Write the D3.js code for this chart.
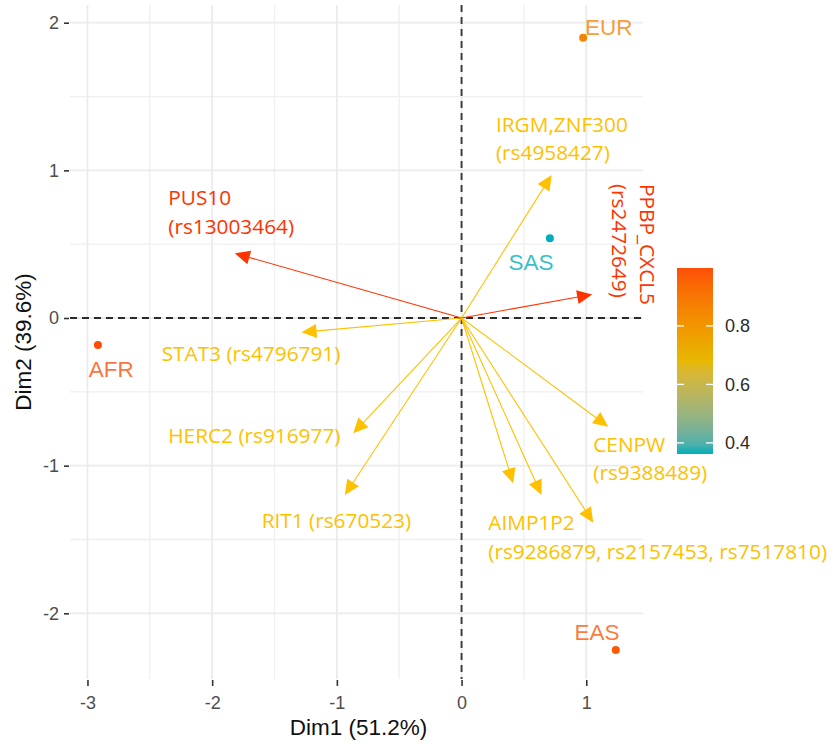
<!DOCTYPE html>
<html>
<head>
<meta charset="utf-8">
<script src="https://cdn.jsdelivr.net/npm/d3@7"></script>
<style>
  html, body { margin: 0; padding: 0; background: #fff; }
  svg { display: block; }
</style>
</head>
<body>
<svg id="chart" width="833" height="744"></svg>
<script>
// ---- Individuals (populations) ----
const indNames = ["EUR", "SAS", "AFR", "EAS"];
const indDim1  = [0.975, 0.708, -2.916, 1.237];
const indDim2  = [1.898, 0.540, -0.183, -2.249];
const indCos2  = [0.86, 0.362, 0.998, 0.975];

// ---- Variables (loci) ----
const varNames = ["PUS10", "IRGM,ZNF300", "PPBP_CXCL5", "STAT3", "HERC2", "RIT1", "CENPW",
                  "AIMP1P2 a", "AIMP1P2 b", "AIMP1P2 c"];
const varDim1 = [-1.818, 0.722, 1.047, -1.283, -0.869, -0.936, 1.176, 0.414, 0.641, 1.056];
const varDim2 = [0.438, 0.968, 0.160, -0.097, -0.781, -1.199, -0.736, -1.120, -1.199, -1.386];
const varCos2 = [0.97, 0.74, 0.99, 0.72, 0.73, 0.75, 0.74, 0.71, 0.72, 0.76];

// Variable label text (one entry per label; AIMP1P2 labels three arrows)
const varLabelLines = [
  ["PUS10", "(rs13003464)"],
  ["IRGM,ZNF300", "(rs4958427)"],
  ["PPBP_CXCL5", "(rs2472649)"],
  ["STAT3 (rs4796791)"],
  ["HERC2 (rs916977)"],
  ["RIT1 (rs670523)"],
  ["CENPW", "(rs9388489)"],
  ["AIMP1P2", "(rs9286879, rs2157453, rs7517810)"]
];
const varLabelOf = [0, 1, 2, 3, 4, 5, 6, 7];   // variable index whose colour each label takes

// Axis ticks and titles
const xTicks = [-3, -2, -1, 0, 1];
const yTicks = [-2, -1, 0, 1, 2];
const xMinor = [-2.5, -1.5, -0.5, 0.5];
const yMinor = [-1.5, -0.5, 0.5, 1.5];
const legendTicks = [0.4, 0.6, 0.8];
const xTitle = "Dim1 (51.2%)";
const yTitle = "Dim2 (39.6%)";

// ---- Layout ----
const panel = { left: 70, right: 643, top: 5, bottom: 679 };
const x = d3.scaleLinear().domain([-3.14, 1.455]).range([panel.left, panel.right]);
const y = d3.scaleLinear().domain([-2.445, 2.12]).range([panel.bottom, panel.top]);

// label anchors in data units
const varLabelPos = [
  { x: -2.352, y: 0.765, rot: 0 },
  { x: 0.276, y: 1.262, rot: 0 },
  { x: 1.431, y: 0.908, rot: 90 },
  { x: -2.405, y: -0.291, rot: 0 },
  { x: -2.352, y: -0.849, rot: 0 },
  { x: -1.603, y: -1.424, rot: 0 },
  { x: 1.056, y: -0.906, rot: 0 },
  { x: 0.214, y: -1.436, rot: 0 }
];
const indLabelPos = [
  { x: 0.99, y: 1.917, anchor: "start" },
  { x: 0.557, y: 0.325, anchor: "middle" },
  { x: -2.809, y: -0.398, anchor: "middle" },
  { x: 1.086, y: -2.181, anchor: "middle" }
];

const gradientCols = ["#00AFBB", "#E7B800", "#FC4E07"];
const cExt = d3.extent(indCos2);
const indColor = d3.scaleLinear()
  .domain([cExt[0], (cExt[0] + cExt[1]) / 2, cExt[1]])
  .range(gradientCols)
  .interpolate(d3.interpolateLab);
const varColor = d3.scaleThreshold().domain([0.9]).range(["#FFC000", "#FF3300"]);

const svg = d3.select("#chart");
const axisFont = "'Liberation Sans', Arial, Helvetica, sans-serif";
const labelFont = "'Open Sans', Lato, sans-serif";

// ---- Grid ----
const grid = svg.append("g");
grid.selectAll("line.vminor").data(xMinor).join("line")
  .attr("x1", d => x(d)).attr("x2", d => x(d))
  .attr("y1", panel.top).attr("y2", panel.bottom)
  .attr("stroke", "#EFEFEF").attr("stroke-width", 1.3);
grid.selectAll("line.hminor").data(yMinor).join("line")
  .attr("y1", d => y(d)).attr("y2", d => y(d))
  .attr("x1", panel.left).attr("x2", panel.right)
  .attr("stroke", "#EFEFEF").attr("stroke-width", 1.3);
grid.selectAll("line.vmajor").data(xTicks).join("line")
  .attr("x1", d => x(d)).attr("x2", d => x(d))
  .attr("y1", panel.top).attr("y2", panel.bottom)
  .attr("stroke", "#EBEBEB").attr("stroke-width", 1.8);
grid.selectAll("line.hmajor").data(yTicks).join("line")
  .attr("y1", d => y(d)).attr("y2", d => y(d))
  .attr("x1", panel.left).attr("x2", panel.right)
  .attr("stroke", "#EBEBEB").attr("stroke-width", 1.8);

// ---- Axes ----
const xAxis = svg.append("g")
  .attr("transform", `translate(0,${panel.bottom + 1})`)
  .call(d3.axisBottom(x).tickValues(xTicks).tickSize(6).tickPadding(10).tickFormat(d3.format("d")));
const yAxis = svg.append("g")
  .attr("transform", `translate(${panel.left - 1},0)`)
  .call(d3.axisLeft(y).tickValues(yTicks).tickSize(5).tickPadding(5).tickFormat(d3.format("d")));
[xAxis, yAxis].forEach(a => {
  a.select(".domain").remove();
  a.selectAll(".tick line").attr("stroke", "#333").attr("stroke-width", 1.6);
  a.selectAll(".tick text").attr("fill", "#4D4D4D")
    .style("font-family", axisFont).style("font-size", "18px");
});
xAxis.selectAll(".tick text").text(d => d < 0 ? "-" + Math.abs(d) : d);
yAxis.selectAll(".tick text").text(d => d < 0 ? "-" + Math.abs(d) : d);

svg.append("text")
  .attr("x", (panel.left + panel.right) / 2 + 2).attr("y", 735)
  .attr("text-anchor", "middle")
  .style("font-family", axisFont).style("font-size", "22.5px").attr("fill", "#111")
  .text(xTitle);
svg.append("text")
  .attr("transform", `translate(31,${(panel.top + panel.bottom) / 2}) rotate(-90)`)
  .attr("text-anchor", "middle")
  .style("font-family", axisFont).style("font-size", "22.5px").attr("fill", "#111")
  .text(yTitle);

// ---- Reference lines through the origin ----
svg.append("line")
  .attr("x1", panel.left).attr("x2", panel.right)
  .attr("y1", y(0)).attr("y2", y(0))
  .attr("stroke", "#2a2a2a").attr("stroke-width", 1.9).attr("stroke-dasharray", "7,5");
svg.append("line")
  .attr("x1", x(0)).attr("x2", x(0))
  .attr("y1", panel.top).attr("y2", panel.bottom)
  .attr("stroke", "#3a3a3a").attr("stroke-width", 1.9).attr("stroke-dasharray", "7,5");

// ---- Variable arrows ----
const headLen = 15, headHalf = 7;
const arrows = svg.append("g");
varNames.forEach((name, i) => {
  const x0 = x(0), y0 = y(0);
  const tx = x(varDim1[i]), ty = y(varDim2[i]);
  const len = Math.hypot(tx - x0, ty - y0);
  const ux = (tx - x0) / len, uy = (ty - y0) / len;
  const bx = tx - ux * headLen, by = ty - uy * headLen;
  const col = varColor(varCos2[i]);
  arrows.append("line")
    .attr("x1", x0).attr("y1", y0).attr("x2", bx + ux * 2).attr("y2", by + uy * 2)
    .attr("stroke", col).attr("stroke-width", 1.1);
  arrows.append("polygon")
    .attr("points", [
      [tx, ty],
      [bx - uy * headHalf, by + ux * headHalf],
      [bx + uy * headHalf, by - ux * headHalf]
    ].map(p => p.join(",")).join(" "))
    .attr("fill", col);
});

// ---- Variable labels ----
const lineGap = 28.5;
varLabelLines.forEach((lines, i) => {
  const p = varLabelPos[i];
  const t = svg.append("text")
    .attr("transform", `translate(${x(p.x)},${y(p.y)}) rotate(${p.rot})`)
    .style("font-family", labelFont).style("font-size", "20.8px")
    .attr("fill", varColor(varCos2[varLabelOf[i]]));
  lines.forEach((s, k) => {
    t.append("tspan").attr("x", 0).attr("y", k * lineGap).text(s);
  });
});

// ---- Individuals ----
const inds = svg.append("g");
indNames.forEach((n, i) => {
  inds.append("circle")
    .attr("cx", x(indDim1[i])).attr("cy", y(indDim2[i])).attr("r", 4)
    .attr("fill", indColor(indCos2[i]));
  const p = indLabelPos[i];
  inds.append("text")
    .attr("x", x(p.x)).attr("y", y(p.y))
    .attr("text-anchor", p.anchor)
    .style("font-family", axisFont).style("font-size", "22.5px")
    .attr("fill", indColor(indCos2[i])).attr("fill-opacity", 0.8)
    .text(n);
});

// ---- Colour bar ----
const bar = { x: 677, y: 268, w: 36, h: 186 };
const legY = d3.scaleLinear().domain([cExt[1], cExt[0]]).range([bar.y, bar.y + bar.h]);
const grad = svg.append("defs").append("linearGradient")
  .attr("id", "cosGrad").attr("x1", 0).attr("x2", 0).attr("y1", 0).attr("y2", 1);
d3.range(0, 1.0001, 0.05).forEach(f => {
  const v = cExt[1] - f * (cExt[1] - cExt[0]);
  grad.append("stop").attr("offset", f).attr("stop-color", indColor(v));
});
svg.append("rect")
  .attr("x", bar.x).attr("y", bar.y).attr("width", bar.w).attr("height", bar.h)
  .attr("fill", "url(#cosGrad)");
const legG = svg.append("g");
legendTicks.forEach(v => {
  const yy = legY(v);
  legG.append("line").attr("x1", bar.x).attr("x2", bar.x + 7).attr("y1", yy).attr("y2", yy)
    .attr("stroke", "#fff").attr("stroke-width", 1.3);
  legG.append("line").attr("x1", bar.x + bar.w - 7).attr("x2", bar.x + bar.w).attr("y1", yy).attr("y2", yy)
    .attr("stroke", "#fff").attr("stroke-width", 1.3);
  legG.append("text")
    .attr("x", bar.x + bar.w + 12).attr("y", yy).attr("dy", "0.36em")
    .style("font-family", axisFont).style("font-size", "18px").attr("fill", "#2b2b2b")
    .text(v.toFixed(1));
});
</script>
</body>
</html>
